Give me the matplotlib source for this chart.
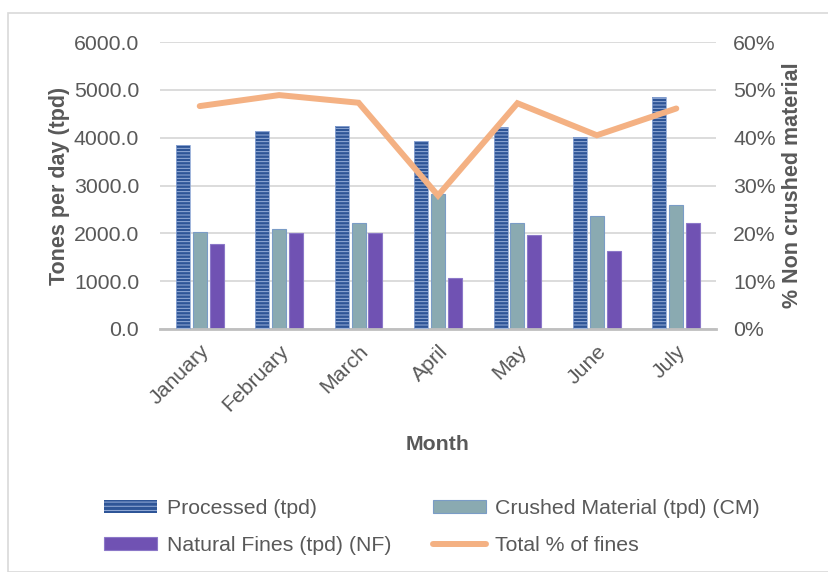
import numpy as np
import matplotlib
matplotlib.use("Agg")
import matplotlib.pyplot as plt
from matplotlib.patches import Rectangle, Patch
from matplotlib.lines import Line2D
from matplotlib.ticker import FuncFormatter, PercentFormatter

plt.rcParams["font.family"] = ["Liberation Sans", "DejaVu Sans"]

months = ["January", "February", "March", "April", "May", "June", "July"]
processed = [3850, 4140, 4250, 3940, 4220, 4020, 4840]
crushed = [2035, 2100, 2225, 2820, 2210, 2365, 2590]
natural_fines = [1785, 2005, 2000, 1060, 1975, 1625, 2225]
pct_fines = [46.6, 48.9, 47.3, 27.9, 47.2, 40.5, 46.1]

TXT = "#595959"
GRID = "#D9D9D9"
C_PROC = "#2E5597"
C_STRIPE = "#9FB5DE"
C_CM = "#8AAAB1"
C_CM_EDGE = "#7A9CC6"
C_NF = "#7052B3"
C_NF_EDGE = "#8C78C8"
C_LINE = "#F4B183"
FS = 15.3

fig = plt.figure(figsize=(8.29, 5.72), dpi=100)
fig.patches.append(Rectangle((8 / 829, 0), 1.0, 1 - 13 / 572, transform=fig.transFigure,
                             fill=False, edgecolor=GRID, linewidth=1.2))

ax = fig.add_axes([160 / 829, 1 - 329 / 572, 556 / 829, 287 / 572])
ax2 = ax.twinx()

x = np.arange(len(months))
w = 0.175
off = 0.212
plt.rcParams["hatch.linewidth"] = 0.65

# processed: dark blue bars with light horizontal stripes
ax.bar(x - off, processed, w, color=C_PROC, linewidth=0, zorder=2)
ax.bar(x - off, processed, w, facecolor="none", edgecolor=C_STRIPE, hatch="-----",
       linewidth=0, zorder=3)
ax.bar(x - off, processed, w, facecolor="none", edgecolor="#8FA8D6", linewidth=0.6, zorder=4)

ax.bar(x, crushed, w, color=C_CM, edgecolor=C_CM_EDGE, linewidth=0.8, zorder=2)
ax.bar(x + off, natural_fines, w, color=C_NF, edgecolor=C_NF_EDGE, linewidth=0.8, zorder=2)

ax.set_xlim(-0.5, len(months) - 0.5)
ax.set_ylim(0, 6000)
ax.set_yticks(np.arange(0, 6001, 1000))
ax.yaxis.set_major_formatter(FuncFormatter(lambda v, p: f"{v:.1f}"))
ax.grid(axis="y", color=GRID, linewidth=1.3, zorder=0)
ax.set_axisbelow(True)
ax.set_xticks(x)
ax.set_xticklabels(months, rotation=45, ha="right", rotation_mode="anchor")

ax2.plot(x, pct_fines, color=C_LINE, linewidth=4.3, solid_capstyle="round",
         solid_joinstyle="miter", zorder=5)
ax2.set_ylim(0, 60)
ax2.set_yticks(np.arange(0, 61, 10))
ax2.yaxis.set_major_formatter(PercentFormatter(decimals=0))

for a in (ax, ax2):
    for s in a.spines.values():
        s.set_visible(False)
    a.tick_params(length=0, labelsize=FS, labelcolor=TXT)
ax.spines["bottom"].set_visible(True)
ax.spines["bottom"].set_color("#BFBFBF")
ax.spines["bottom"].set_linewidth(2)
ax.tick_params(axis="y", pad=15)
ax.tick_params(axis="x", pad=9)
ax2.tick_params(axis="y", pad=12.5)

ax.set_ylabel("Tones per day (tpd)", fontsize=15.5, fontweight="bold", color=TXT, labelpad=3)
ax2.set_ylabel("% Non crushed material", fontsize=15.5, fontweight="bold", color=TXT, labelpad=4)
ax.set_xlabel("Month", fontsize=FS, fontweight="bold", color=TXT, labelpad=14)

handles = [
    Patch(facecolor=C_PROC, edgecolor=C_STRIPE, hatch="----", linewidth=0),
    Patch(facecolor=C_CM, edgecolor=C_CM_EDGE, linewidth=0.8),
    Patch(facecolor=C_NF, edgecolor=C_NF_EDGE, linewidth=0.8),
    Line2D([0], [0], color=C_LINE, linewidth=4.3, solid_capstyle="round"),
]
labels = ["Processed (tpd)", "Crushed Material (tpd) (CM)",
          "Natural Fines (tpd) (NF)", "Total % of fines"]
order = [0, 2, 1, 3]
leg = fig.legend([handles[i] for i in order], [labels[i] for i in order],
                 ncol=2, loc="center", bbox_to_anchor=(432 / 829, 1 - 527 / 572),
                 frameon=False, fontsize=FS, handlelength=2.5, handleheight=0.55,
                 handletextpad=0.45, columnspacing=1.95, labelspacing=0.85)
for t in leg.get_texts():
    t.set_color(TXT)

fig.savefig("out.png", dpi=100)
